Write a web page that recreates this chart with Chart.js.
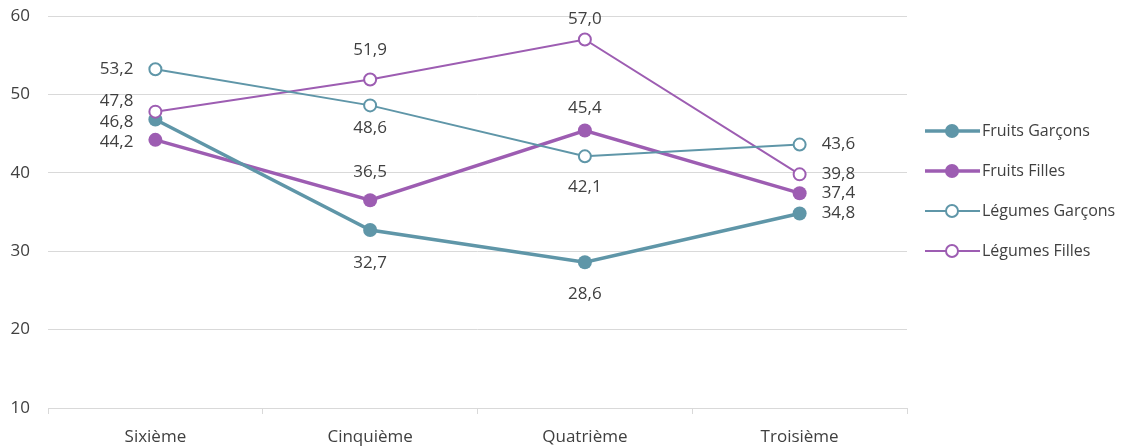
<!DOCTYPE html>
<html>
<head>
<meta charset="utf-8">
<script src="https://cdn.jsdelivr.net/npm/chart.js@4/dist/chart.umd.min.js"></script>
<style>
  html, body { margin: 0; padding: 0; background: #ffffff; }
  #wrap { width: 1122px; height: 447px; position: relative; }
</style>
</head>
<body>
<div id="wrap"><canvas id="chart" width="1122" height="447"></canvas></div>
<script>
// Niveaux scolaires
const categories = ['Sixième', 'Cinquième', 'Quatrième', 'Troisième'];

// Séries (en %)
const fruitsGarcons = [46.8, 32.7, 28.6, 34.8];
const fruitsFilles = [44.2, 36.5, 45.4, 37.4];
const legumesGarcons = [53.2, 48.6, 42.1, 43.6];
const legumesFilles = [47.8, 51.9, 57.0, 39.8];

const seriesNames = ['Fruits Garçons', 'Fruits Filles', 'Légumes Garçons', 'Légumes Filles'];

// Axe des ordonnées
const yMin = 10, yMax = 60, yStep = 10;

const TEAL = '#5F96A8';
const PURPLE = '#9D5DB2';
const FONT = '"Open Sans", "Liberation Sans", sans-serif';
const TEXT = '#404040';

// Décalage des étiquettes de valeur par rapport au point [dx, dy]
const labelOffsets = [
  [[-22, 3], [0, 33], [0, 32], [22, 0]],
  [[-22, 2], [0, -28], [0, -22], [22, 0]],
  [[-22, 0], [0, 23], [0, 31], [22, 0]],
  [[-22, -10], [0, -29], [0, -20], [22, 0]]
];

const frenchNumber = v => v.toFixed(1).replace('.', ',');

const valueLabels = {
  id: 'valueLabels',
  afterDatasetsDraw(chart) {
    const ctx = chart.ctx;
    ctx.save();
    ctx.font = '17px ' + FONT;
    ctx.fillStyle = TEXT;
    ctx.textBaseline = 'middle';
    chart.data.datasets.forEach((ds, i) => {
      const meta = chart.getDatasetMeta(i);
      meta.data.forEach((pt, j) => {
        const [dx, dy] = labelOffsets[i][j];
        ctx.textAlign = dx < 0 ? 'right' : (dx > 0 ? 'left' : 'center');
        ctx.fillText(frenchNumber(ds.data[j]), pt.x + dx, pt.y + dy);
      });
    });
    ctx.restore();
  }
};

const sideLegend = {
  id: 'sideLegend',
  afterDraw(chart) {
    const ctx = chart.ctx;
    const x0 = chart.chartArea.right + 18;
    const rowTop = 131, rowGap = 40;
    ctx.save();
    chart.data.datasets.forEach((ds, i) => {
      const y = rowTop + i * rowGap;
      ctx.strokeStyle = ds.borderColor;
      ctx.lineWidth = ds.borderWidth;
      ctx.beginPath();
      ctx.moveTo(x0, y);
      ctx.lineTo(x0 + 55, y);
      ctx.stroke();
      ctx.beginPath();
      ctx.arc(x0 + 27, y, ds.pointRadius, 0, Math.PI * 2);
      ctx.fillStyle = ds.pointBackgroundColor;
      ctx.fill();
      if (ds.pointBorderWidth > 0) {
        ctx.lineWidth = ds.pointBorderWidth;
        ctx.strokeStyle = ds.pointBorderColor;
        ctx.stroke();
      }
      ctx.fillStyle = TEXT;
      ctx.font = '16px ' + FONT;
      ctx.textAlign = 'left';
      ctx.textBaseline = 'middle';
      ctx.fillText(ds.label, x0 + 57, y);
    });
    ctx.restore();
  }
};

function filledSeries(label, data, color) {
  return {
    label, data, order: 1,
    borderColor: color, borderWidth: 3.5,
    pointRadius: 7, pointHoverRadius: 7,
    pointBackgroundColor: color, pointBorderColor: color, pointBorderWidth: 0,
    tension: 0
  };
}
function hollowSeries(label, data, color) {
  return {
    label, data, order: 0,
    borderColor: color, borderWidth: 2,
    pointRadius: 6, pointHoverRadius: 6,
    pointBackgroundColor: '#ffffff', pointBorderColor: color, pointBorderWidth: 2,
    tension: 0
  };
}

new Chart(document.getElementById('chart'), {
  type: 'line',
  data: {
    labels: categories,
    datasets: [
      filledSeries(seriesNames[0], fruitsGarcons, TEAL),
      filledSeries(seriesNames[1], fruitsFilles, PURPLE),
      hollowSeries(seriesNames[2], legumesGarcons, TEAL),
      hollowSeries(seriesNames[3], legumesFilles, PURPLE)
    ]
  },
  options: {
    responsive: false,
    animation: false,
    events: [],
    layout: { padding: { left: 0, right: 215, top: 16, bottom: 0 } },
    plugins: { legend: { display: false }, tooltip: { enabled: false } },
    scales: {
      x: {
        offset: true,
        grid: { display: true, drawOnChartArea: false, offset: true, color: '#d9d9d9', tickLength: 6, lineWidth: 1 },
        border: { display: true, color: '#d9d9d9', width: 1 },
        ticks: { color: TEXT, font: { family: FONT, size: 17 }, padding: 13, maxRotation: 0 },
        afterFit(scale) { scale.height = 39; }
      },
      y: {
        min: yMin, max: yMax,
        grid: { color: '#d9d9d9', drawTicks: false, lineWidth: 1 },
        border: { display: false },
        ticks: { stepSize: yStep, color: TEXT, font: { family: FONT, size: 17 }, padding: 18 },
        afterFit(scale) { scale.width = 48; scale.paddingTop = 0; scale.paddingBottom = 0; }
      }
    }
  },
  plugins: [valueLabels, sideLegend]
});
</script>
</body>
</html>
